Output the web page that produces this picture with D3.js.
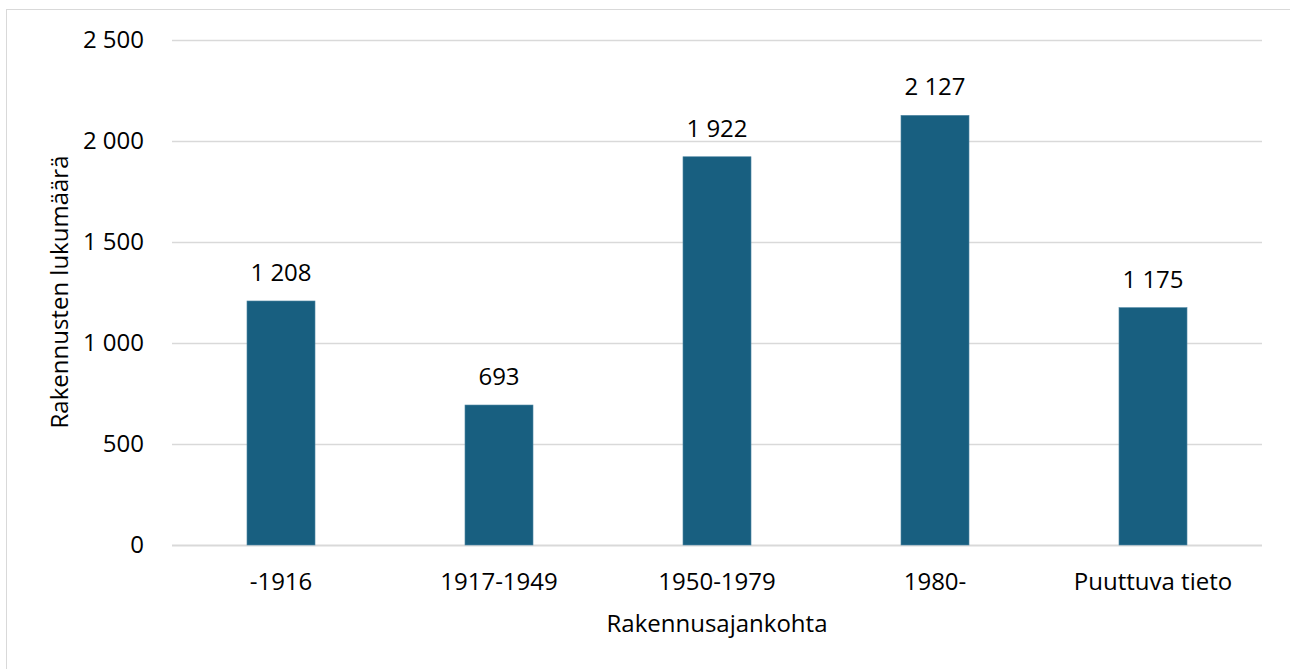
<!DOCTYPE html>
<html>
<head>
<meta charset="utf-8">
<script src="https://cdn.jsdelivr.net/npm/d3@7"></script>
<style>
  html, body { margin: 0; padding: 0; background: #fff; }
  svg text { font-family: "Open Sans", sans-serif; fill: #000; }
</style>
</head>
<body>
<div id="chart"></div>
<script>
const categories = ['-1916', '1917-1949', '1950-1979', '1980-', 'Puuttuva tieto'];
const values = [1208, 693, 1922, 2127, 1175];
const yTicks = [0, 500, 1000, 1500, 2000, 2500];
const xTitle = 'Rakennusajankohta';
const yTitle = 'Rakennusten lukumäärä';

(function () {
  const width = 1290, height = 669;
  const margin = { top: 40, right: 28, bottom: 124, left: 172 };
  const innerW = width - margin.left - margin.right;
  const innerH = height - margin.top - margin.bottom;
  const fmt = v => d3.format(',')(v).replace(/,/g, ' ');

  const svg = d3.select('#chart').append('svg')
    .attr('width', width)
    .attr('height', height);

  // chart frame
  svg.append('rect')
    .attr('x', 6.5).attr('y', 9.5)
    .attr('width', width).attr('height', height)
    .attr('fill', 'none')
    .attr('stroke', '#d9d9d9');

  const g = svg.append('g')
    .attr('transform', `translate(${margin.left},${margin.top})`);

  const x = d3.scaleBand().domain(categories).range([0, innerW]).paddingInner(0.688).paddingOuter(0.344);
  const y = d3.scaleLinear().domain([0, 2500]).range([innerH, 0]);

  // gridlines
  g.append('g').selectAll('line')
    .data(yTicks)
    .enter().append('line')
    .attr('x1', 0).attr('x2', innerW)
    .attr('y1', d => Math.round(y(d)) + 0.5)
    .attr('y2', d => Math.round(y(d)) + 0.5)
    .attr('stroke', '#d9d9d9')
    .attr('stroke-width', d => d === 0 ? 2 : 1.5);

  // y labels
  const yAxis = g.append('g')
    .call(d3.axisLeft(y).tickValues(yTicks).tickFormat(fmt).tickSize(0).tickPadding(28));
  yAxis.select('.domain').remove();
  yAxis.selectAll('text').attr('font-size', 24).style('font-family', '"Open Sans", sans-serif');

  // bars
  g.append('g').selectAll('rect')
    .data(values)
    .enter().append('rect')
    .attr('x', (d, i) => x(categories[i]))
    .attr('width', x.bandwidth())
    .attr('y', d => y(d))
    .attr('height', d => innerH - y(d))
    .attr('fill', '#185f80')
    .attr('stroke', '#4f87a3')
    .attr('stroke-width', 0.6);

  // value labels
  g.append('g').selectAll('text')
    .data(values)
    .enter().append('text')
    .attr('x', (d, i) => x(categories[i]) + x.bandwidth() / 2)
    .attr('y', d => y(d) - 20)
    .attr('text-anchor', 'middle')
    .attr('font-size', 24)
    .text(fmt);

  // x labels
  const xAxis = g.append('g')
    .attr('transform', `translate(0,${innerH})`)
    .call(d3.axisBottom(x).tickSize(0).tickPadding(28));
  xAxis.select('.domain').remove();
  xAxis.selectAll('text').attr('font-size', 24).style('font-family', '"Open Sans", sans-serif');

  // axis titles
  svg.append('text')
    .attr('x', margin.left + innerW / 2)
    .attr('y', 632)
    .attr('text-anchor', 'middle')
    .attr('font-size', 24)
    .text(xTitle);

  svg.append('text')
    .attr('transform', 'translate(68,292) rotate(-90)')
    .attr('text-anchor', 'middle')
    .attr('font-size', 24)
    .text(yTitle);
})();
</script>
</body>
</html>
